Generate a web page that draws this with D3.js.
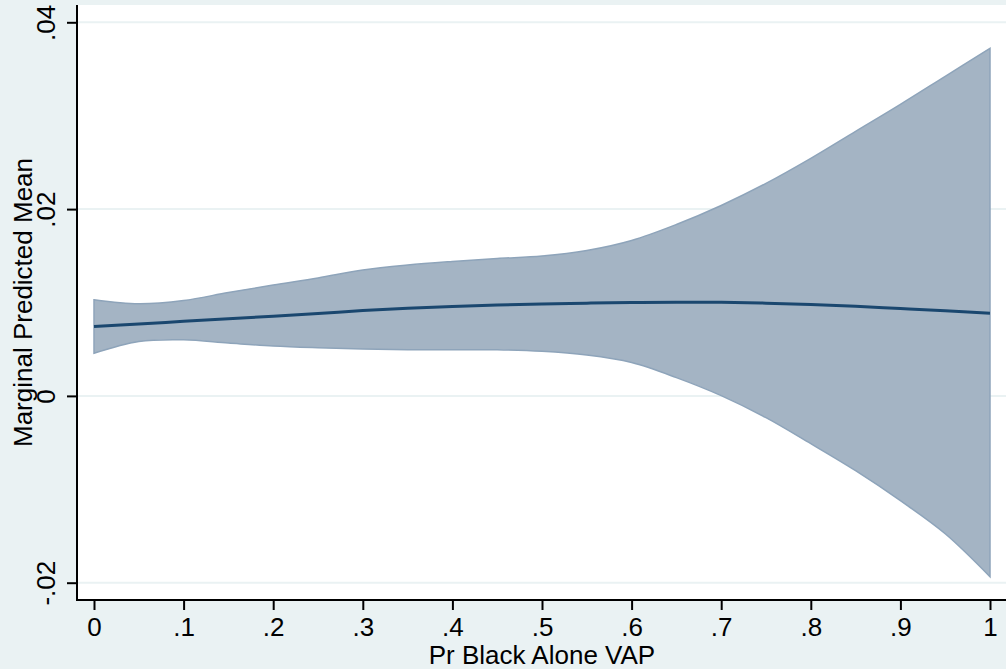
<!DOCTYPE html>
<html>
<head>
<meta charset="utf-8">
<script src="https://cdn.jsdelivr.net/npm/d3@7"></script>
<style>
  html, body { margin: 0; padding: 0; background: #eaf2f3; }
  svg { display: block; font-family: "Liberation Sans", Arial, Helvetica, sans-serif; }
</style>
</head>
<body>
<svg width="1006" height="669"></svg>
<script>
// values
const xVals = [0, .05, .1, .15, .2, .25, .3, .35, .4, .45, .5, .55, .6, .65, .7, .75, .8, .85, .9, .95, 1];
const meanVals = [0.00743, 0.00769, 0.00798, 0.00826, 0.00854, 0.00882, 0.00914, 0.00938, 0.00957, 0.00972, 0.00984,
  0.00993, 0.01000, 0.01003, 0.01002, 0.00993, 0.00978, 0.00959, 0.00935, 0.00911, 0.00885];
const upperVals = [0.01029, 0.00986, 0.01021, 0.01107, 0.01187, 0.01262, 0.01348, 0.01401, 0.01439, 0.01471, 0.01498,
  0.01557, 0.01664, 0.01835, 0.02039, 0.02275, 0.02543, 0.02832, 0.03121, 0.03421, 0.03721];
const lowerVals = [0.00456, 0.00582, 0.00600, 0.00566, 0.00534, 0.00515, 0.00501, 0.00494, 0.00494, 0.00493, 0.00477,
  0.00437, 0.00357, 0.00196, 0.00003, -0.00233, -0.00512, -0.00801, -0.01122, -0.01476, -0.01936];
const xTicks = [0, .1, .2, .3, .4, .5, .6, .7, .8, .9, 1];
const yTicks = [-.02, 0, .02, .04];

const svg = d3.select("svg"),
  width = +svg.attr("width"),
  height = +svg.attr("height");

const plot = {left: 77, right: 1006, top: 5, bottom: 600};

const x = d3.scaleLinear().domain([0, 1]).range([94, 990]);
const y = d3.scaleLinear().domain([-0.02, 0.04]).range([582.7, 22.3]);

const data = xVals.map((v, i) => ({x: v, m: meanVals[i], lo: lowerVals[i], hi: upperVals[i]}));

// background + plot region
svg.append("rect").attr("width", width).attr("height", height).attr("fill", "#eaf2f3");
svg.append("rect")
  .attr("x", plot.left).attr("y", plot.top)
  .attr("width", plot.right - plot.left).attr("height", plot.bottom - plot.top)
  .attr("fill", "#ffffff");

// gridlines
svg.append("g").selectAll("line").data(yTicks).enter().append("line")
  .attr("x1", plot.left).attr("x2", plot.right)
  .attr("y1", d => y(d)).attr("y2", d => y(d))
  .attr("stroke", "#eaf2f3").attr("stroke-width", 2);

// confidence band
const area = d3.area()
  .x(d => x(d.x))
  .y0(d => y(d.lo))
  .y1(d => y(d.hi))
  .curve(d3.curveCatmullRom.alpha(0.5));

svg.append("path").datum(data)
  .attr("d", area)
  .attr("fill", "#a4b4c4")
  .attr("stroke", "#8ea4ba")
  .attr("stroke-width", 1.5);

// mean line
const line = d3.line()
  .x(d => x(d.x))
  .y(d => y(d.m))
  .curve(d3.curveCatmullRom.alpha(0.5));

svg.append("path").datum(data)
  .attr("d", line)
  .attr("fill", "none")
  .attr("stroke", "#1a476f")
  .attr("stroke-width", 3);

// stata style labels: ".02", "-.02"
const fmt = d => d === 0 ? "0" : d3.format("~g")(d).replace("\u2212", "-").replace("0.", ".");

// x axis
const xAxis = d3.axisBottom(x).tickValues(xTicks).tickFormat(fmt).tickSize(10).tickPadding(0);
const gx = svg.append("g").attr("transform", `translate(0,${plot.bottom})`).call(xAxis);
gx.select(".domain").remove();
gx.append("line").attr("x1", plot.left).attr("x2", plot.right).attr("stroke", "#000").attr("stroke-width", 2);
gx.selectAll(".tick line").attr("stroke", "#000").attr("stroke-width", 2);
gx.selectAll(".tick text")
  .attr("y", 35.5).attr("dy", 0)
  .attr("fill", "#000")
  .style("font-size", "26px")
  .style("font-family", "'Liberation Sans', Arial, Helvetica, sans-serif");

// y axis
const yAxis = d3.axisLeft(y).tickValues(yTicks).tickFormat(fmt).tickSize(10);
const gy = svg.append("g").attr("transform", `translate(${plot.left},0)`).call(yAxis);
gy.select(".domain").remove();
gy.append("line").attr("y1", plot.top).attr("y2", plot.bottom + 1).attr("stroke", "#000").attr("stroke-width", 2);
gy.selectAll(".tick line").attr("stroke", "#000").attr("stroke-width", 2);
gy.selectAll(".tick text")
  .attr("transform", "rotate(-90)")
  .attr("x", 0).attr("y", -22).attr("dy", 0)
  .attr("text-anchor", "middle")
  .attr("fill", "#000")
  .style("font-size", "26px")
  .style("font-family", "'Liberation Sans', Arial, Helvetica, sans-serif");

// axis titles
svg.append("text")
  .attr("x", (x(0) + x(1)) / 2)
  .attr("y", 664)
  .attr("text-anchor", "middle")
  .style("font-size", "26px")
  .text("Pr Black Alone VAP");

svg.append("text")
  .attr("transform", `translate(32,${(plot.top + plot.bottom) / 2}) rotate(-90)`)
  .attr("text-anchor", "middle")
  .style("font-size", "26px")
  .text("Marginal Predicted Mean");
</script>
</body>
</html>
